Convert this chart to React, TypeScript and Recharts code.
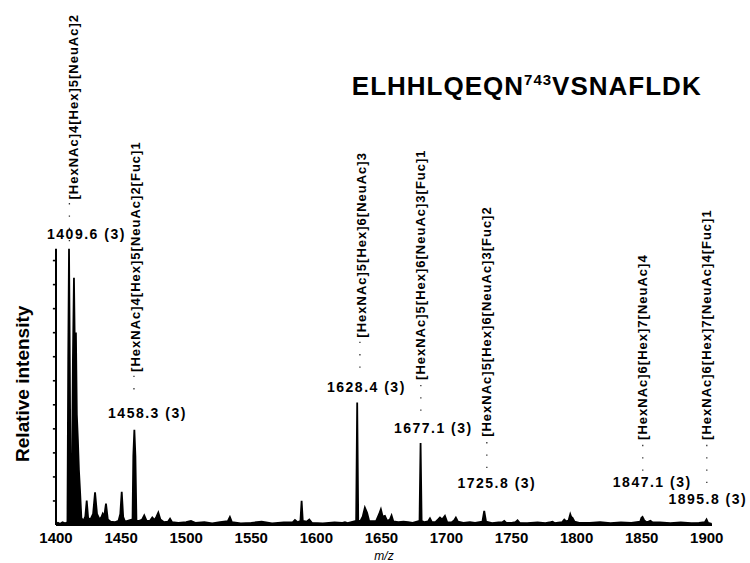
import React from 'react'
import {
  Area,
  ComposedChart,
  ReferenceDot,
  ReferenceLine,
  XAxis,
  YAxis,
} from 'recharts'

// Spectrum trace: m/z and relative intensity (%).
const specMz = [
  1400.0, 1401.5, 1403.0, 1405.0, 1407.0, 1408.8, 1409.4, 1410.0, 1410.6, 1411.3,
  1412.0, 1413.0, 1413.8, 1414.5, 1415.3, 1416.0, 1416.8, 1417.6, 1418.5, 1419.5,
  1421.0, 1422.5, 1423.6, 1424.7, 1426.5, 1428.5, 1430.0, 1431.5, 1433.5, 1435.0,
  1435.9, 1437.0, 1438.4, 1439.8, 1442.0, 1445.0, 1448.0, 1449.4, 1450.5, 1451.6,
  1453.0, 1455.0, 1458.8, 1459.4, 1460.2, 1461.0, 1461.8, 1464.0, 1466.2, 1467.8,
  1469.6, 1472.2, 1474.0, 1475.8, 1477.2, 1478.6, 1480.2, 1483.0, 1486.0, 1487.6,
  1489.2, 1494.0, 1500.0, 1503.7, 1507.0, 1514.0, 1520.0, 1526.0, 1532.0, 1533.6,
  1535.2, 1542.0, 1550.0, 1558.0, 1566.0, 1575.0, 1582.0, 1583.6, 1585.6, 1587.8,
  1588.7, 1589.6, 1592.6, 1594.6, 1596.6, 1605.0, 1614.0, 1620.0, 1622.0, 1624.0,
  1630.6, 1631.4, 1632.2, 1634.0, 1635.6, 1637.3, 1639.0, 1640.6, 1643.0, 1646.0,
  1648.3, 1649.6, 1651.0, 1652.7, 1654.5, 1656.5, 1657.8, 1659.2, 1663.0, 1667.0,
  1670.6, 1674.0, 1679.3, 1680.1, 1680.9, 1683.0, 1685.8, 1687.3, 1688.8, 1691.5,
  1693.6, 1695.0, 1696.6, 1698.8, 1700.6, 1703.8, 1705.6, 1707.2, 1708.8, 1713.0,
  1718.0, 1722.0, 1727.6, 1729.0, 1730.4, 1735.0, 1740.0, 1743.0, 1744.4, 1746.0,
  1750.0, 1753.0, 1754.6, 1756.2, 1762.0, 1770.0, 1776.0, 1780.0, 1781.5, 1783.0,
  1788.8, 1790.5, 1792.0, 1793.8, 1795.1, 1796.2, 1796.8, 1798.4, 1802.0, 1810.0,
  1818.0, 1826.0, 1834.0, 1842.0, 1848.8, 1849.8, 1850.6, 1851.8, 1853.5, 1855.2,
  1856.7, 1858.2, 1864.0, 1872.0, 1880.0, 1888.0, 1894.0, 1898.5, 1899.8, 1901.0,
  1903.8,
]
const specInt = [
  0.4, 0.8, 0.4, 1.0, 0.6, 1.0, 60, 100, 60, 1.5,
  3, 60, 89.5, 62, 69.7, 40, 31, 20, 12, 2.5,
  1.5, 3, 8.8, 2.5, 2, 4, 11.8, 4, 2, 3,
  4.1, 3, 7.7, 2, 1.2, 1, 1.5, 4, 12, 3,
  1.2, 1.5, 2, 25, 34.5, 25, 1.5, 1.5, 2, 3.5,
  1.5, 1.5, 2.7, 1.8, 3, 4.5, 2, 1, 1.2, 2.3,
  1, 0.8, 1, 1.5, 0.8, 1, 0.6, 1, 1.4, 2.9,
  1, 0.6, 0.8, 1.2, 0.6, 0.9, 1, 1.8, 1, 1.5,
  8.8, 1.5, 1.2, 2, 0.8, 0.6, 0.9, 0.8, 1, 0.7,
  1.5, 44.3, 1.5, 1.6, 3, 6.3, 4.4, 1.5, 1.4, 1.5,
  4, 5.7, 3, 3.3, 1.4, 2, 3.5, 1.3, 1, 1.2,
  1, 0.8, 1.5, 29.7, 1.5, 1, 1.3, 2.4, 1, 1,
  2, 2.7, 2, 3.3, 1, 0.9, 1.5, 2.7, 1.2, 0.8,
  1, 0.8, 1.2, 5.1, 1.2, 0.7, 0.9, 1, 1.5, 0.8,
  0.8, 1, 1.7, 0.8, 0.7, 0.9, 0.7, 1, 1.2, 0.7,
  1, 2, 1.3, 1.6, 3.9, 2.4, 2.6, 1.2, 0.8, 0.8,
  1, 0.7, 0.9, 0.8, 1.2, 2.6, 2.9, 1.8, 1, 1.2,
  1.5, 1, 0.9, 0.7, 0.9, 0.7, 0.8, 1, 2, 0.8,
  0.4,
]

const xTicks = [1400, 1450, 1500, 1550, 1600, 1650, 1700, 1750, 1800, 1850, 1900]
const yTicks = [8.7, 17.4, 26.1, 34.8, 43.5, 52.2, 60.9, 69.6, 78.3, 87, 95.7]

// m/z (charge) labels over the peaks: centre m/z and baseline height
const peakText = ['1409.6 (3)', '1458.3 (3)', '1628.4 (3)', '1677.1 (3)', '1725.8 (3)', '1847.1 (3)', '1895.8 (3)']
const peakMz = [1423.4, 1470.3, 1638.5, 1689.9, 1738.7, 1858.1, 1900.8]
const peakY = [103.6, 38.8, 48.2, 33.3, 13.4, 13.8, 7.6]

// glycan compositions, written upwards from their lower end
const compText = [
  '[HexNAc]4[Hex]5[NeuAc]2',
  '[HexNAc]4[Hex]5[NeuAc]2[Fuc]1',
  '[HexNAc]5[Hex]6[NeuAc]3',
  '[HexNAc]5[Hex]6[NeuAc]3[Fuc]1',
  '[HexNAc]5[Hex]6[NeuAc]3[Fuc]2',
  '[HexNAc]6[Hex]7[NeuAc]4',
  '[HexNAc]6[Hex]7[NeuAc]4[Fuc]1',
]
const compMz = [1413.1, 1461.4, 1635.0, 1680.3, 1731.0, 1850.8, 1900.0]
const compY = [117.8, 55.4, 67.8, 52.5, 31.9, 30.8, 30.8]

// dotted leaders under the compositions
const leaderMz = [1410.3, 1459.9, 1633.5, 1680.3, 1731.0, 1850.8, 1900.0]
const leaderFrom = [116.5, 54, 66.3, 50.7, 30, 29, 29]
const leaderTo = [101, 47, 54.3, 38, 18, 19, 14]

const data = specMz.map((mz, i) => ({ mz, int: specInt[i] }))

const FONT = '"Liberation Sans", Arial, Helvetica, sans-serif'

export default function App() {
  return (
    <div
      style={{
        position: 'absolute',
        left: 0,
        top: 0,
        width: 750,
        height: 563,
        background: '#fff',
        fontFamily: FONT,
      }}
    >
      <ComposedChart
        width={750}
        height={563}
        data={data}
        margin={{ top: 0, right: 38, bottom: 0, left: 56 }}
      >
        <XAxis
          dataKey="mz"
          type="number"
          domain={[1400, 1904]}
          ticks={xTicks}
          interval={0}
          allowDataOverflow
          height={38}
          axisLine={{ stroke: '#000', strokeWidth: 2 }}
          tickLine={false}
          tickSize={6}
          tickMargin={1}
          tick={{ fill: '#000', fontSize: 15, fontWeight: 700, fontFamily: FONT }}
          label={{
            value: 'm/z',
            position: 'insideBottom',
            offset: 3,
            fill: '#000',
            fontSize: 12,
            fontStyle: 'italic',
            fontFamily: FONT,
          }}
        />
        <YAxis type="number" domain={[0, 190]} hide width={0} />
        <Area
          dataKey="int"
          type="linear"
          stroke="#000"
          strokeWidth={1.8}
          fill="#000"
          fillOpacity={1}
          dot={false}
          activeDot={false}
          isAnimationActive={false}
        />
        <ReferenceLine
          segment={[
            { x: 1400, y: 0 },
            { x: 1400, y: 100 },
          ]}
          stroke="#000"
          strokeWidth={2}
          ifOverflow="visible"
        />
        {yTicks.map((t) => (
          <ReferenceLine
            key={`yt${t}`}
            segment={[
              { x: 1397.6, y: t },
              { x: 1400, y: t },
            ]}
            stroke="#000"
            strokeWidth={1.6}
            ifOverflow="visible"
          />
        ))}
        {leaderMz.map((m, i) => (
          <ReferenceLine
            key={`ld${i}`}
            segment={[
              { x: m, y: leaderFrom[i] },
              { x: m, y: leaderTo[i] },
            ]}
            stroke="#333"
            strokeWidth={1.3}
            strokeDasharray="1.3 11"
            ifOverflow="visible"
          />
        ))}
        {peakMz.map((m, i) => (
          <ReferenceDot
            key={`pk${i}`}
            x={m}
            y={peakY[i]}
            r={0}
            ifOverflow="visible"
            shape={(p: any) => (
              <text
                x={p.cx}
                y={p.cy}
                textAnchor="middle"
                fontSize={14}
                fontWeight={700}
                letterSpacing={1.5}
                fill="#000"
                fontFamily={FONT}
              >
                {peakText[i]}
              </text>
            )}
          />
        ))}
        {compMz.map((m, i) => (
          <ReferenceDot
            key={`cp${i}`}
            x={m}
            y={compY[i]}
            r={0}
            ifOverflow="visible"
            shape={(p: any) => (
              <text
                x={p.cx}
                y={p.cy}
                transform={`rotate(-90 ${p.cx} ${p.cy})`}
                textAnchor="start"
                dominantBaseline="central"
                fontSize={13}
                fontWeight={700}
                letterSpacing={1}
                fill="#000"
                fontFamily={FONT}
              >
                {compText[i]}
              </text>
            )}
          />
        ))}
        <ReferenceDot
          x={1627.3}
          y={155.8}
          r={0}
          ifOverflow="visible"
          shape={(p: any) => (
            <text
              x={p.cx}
              y={p.cy}
              fontSize={26}
              fontWeight={700}
              letterSpacing={1}
              fill="#000"
              fontFamily={FONT}
            >
              ELHHLQEQN
              <tspan fontSize={15} dy={-10}>
                743
              </tspan>
              <tspan dy={10}>VSNAFLDK</tspan>
            </text>
          )}
        />
        <ReferenceDot
          x={1373.9}
          y={51.1}
          r={0}
          ifOverflow="visible"
          shape={(p: any) => (
            <text
              x={p.cx}
              y={p.cy}
              transform={`rotate(-90 ${p.cx} ${p.cy})`}
              textAnchor="middle"
              dominantBaseline="central"
              fontSize={19}
              fontWeight={700}
              fill="#000"
              fontFamily={FONT}
            >
              Relative intensity
            </text>
          )}
        />
      </ComposedChart>
    </div>
  )
}
